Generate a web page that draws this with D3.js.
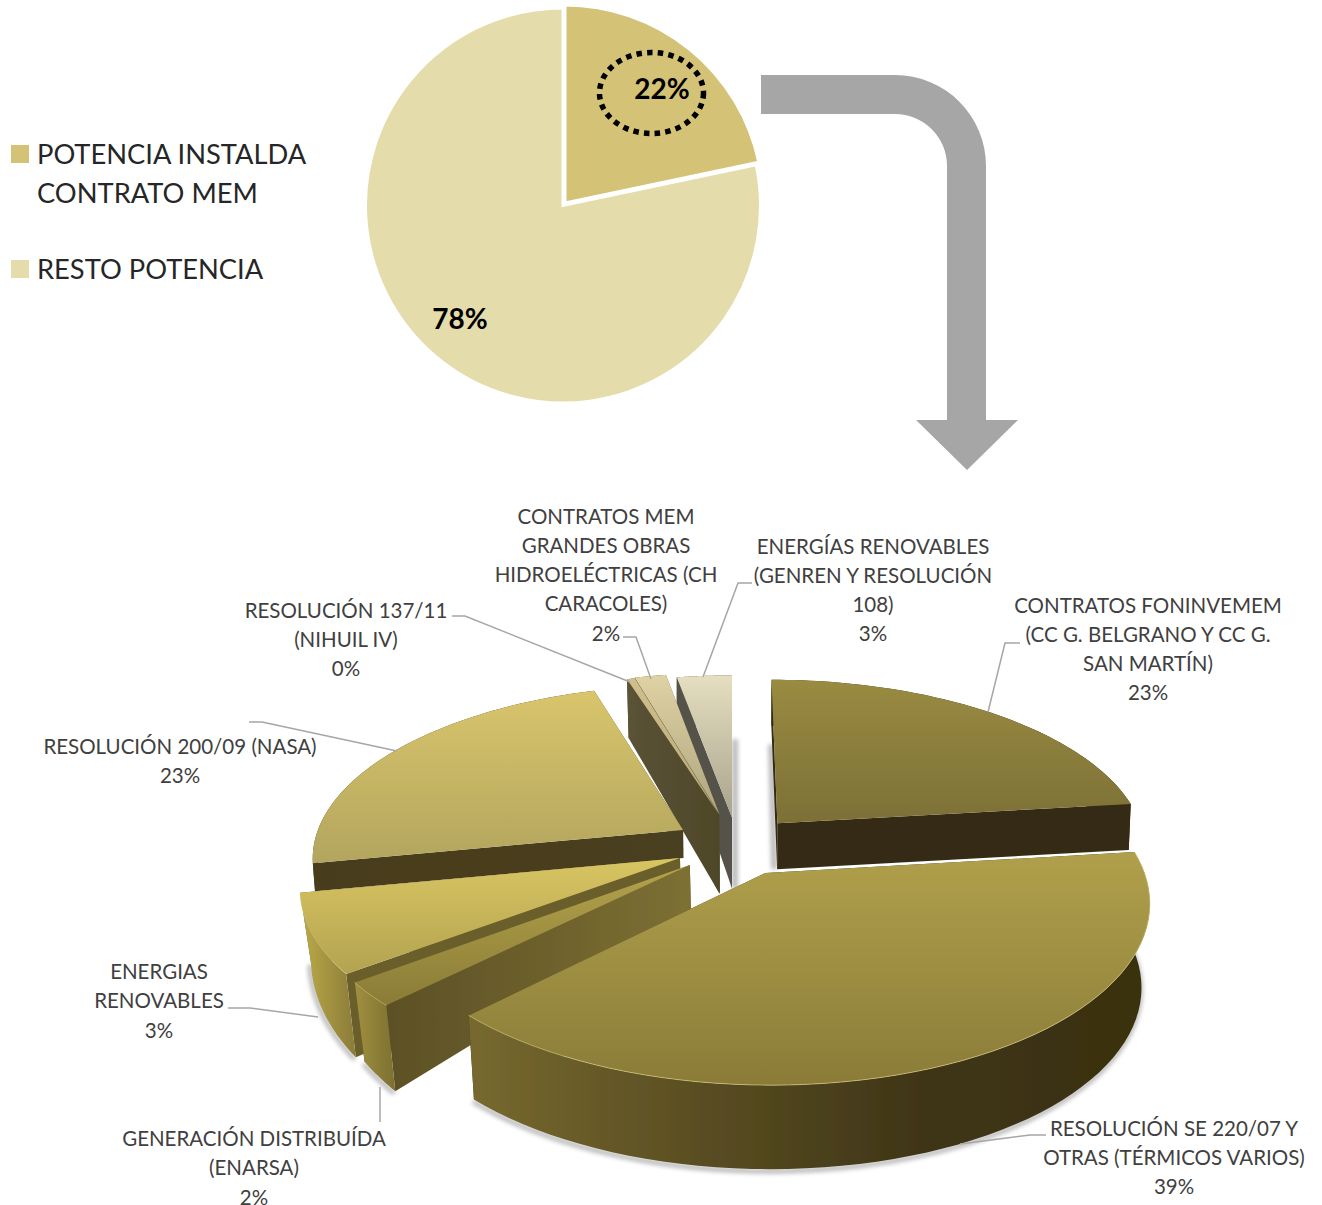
<!DOCTYPE html>
<html><head><meta charset="utf-8">
<script src="https://cdn.jsdelivr.net/npm/d3@7"></script>
<style>html,body{margin:0;padding:0;background:#fff}svg{display:block}text{font-family:Lato,"Open Sans",sans-serif}</style>
</head><body><div id="c"></div>
<script>
// ---- top pie data
const topNames = ["POTENCIA INSTALDA|CONTRATO MEM", "RESTO POTENCIA"];
const topPercentLabels = [22, 78];
const topShares = [21.7, 78.3];
const topColors = ["#d4c276", "#e5dcab"];
// ---- 3D pie data (clockwise from 12 o'clock)
const sliceLabels = [
  ["CONTRATOS FONINVEMEM","(CC G. BELGRANO Y CC G.","SAN MARTÍN)"],
  ["RESOLUCIÓN SE 220/07 Y","OTRAS (TÉRMICOS VARIOS)"],
  ["GENERACIÓN DISTRIBUÍDA","(ENARSA)"],
  ["ENERGIAS","RENOVABLES"],
  ["RESOLUCIÓN 200/09 (NASA)"],
  ["RESOLUCIÓN 137/11","(NIHUIL IV)"],
  ["CONTRATOS MEM","GRANDES OBRAS","HIDROELÉCTRICAS (CH","CARACOLES)"],
  ["ENERGÍAS RENOVABLES","(GENREN Y RESOLUCIÓN","108)"]
];
const slicePercentLabels = [23, 39, 2, 3, 23, 0, 2, 3];
// drawn share of each wedge
const sliceShares = [23.1, 39.4, 2.2, 7.2, 23.3, 0.4, 1.6, 2.8];
// ---- exploded offset of each wedge on the pie plane (in radii)
const explodeX = [0.125, 0.088, -0.112, -0.139, -0.134, -0.035, -0.035, 0];
const explodeY = [-0.13, 0.16, 0.115, 0.075, -0.089, -0.18, -0.185, -0.165];
// ---- wall height model
const depthBase = [46, 84, 39, 62, 28, 83, 83, 75];
const depthSlope = [0, 0, 50, 28, 0, 25, 25, 25];
const depthTaper = [0.995, 0.98, 0.974, 0.975, 0.995, 0.985, 0.985, 1];
const drawOrder = [7, 6, 5, 0, 4, 3, 2, 1];
const shadowedRims = [1, 2, 3];
const shadowedEdges = [[0, "first", -3], [7, "last", 3]];
// ---- styles
const topStops = [
  ["#9a8b42","#7c7036"],["#b0a04c","#8a7c38"],["#b3a34c","#8a7c36"],["#d8c562","#b3a350"],
  ["#d9c56c","#b2a55e"],["#d0c08c","#b5a878"],["#dfd2a4","#aea57e"],["#e5dec0","#a8a38c"]
];
const wallStops = [
  ["#352c13","#352c13"],["#3e3517","#3e3517"],["#5c5026","#7d7032"],["#6b5f2a","#6b5f2a"],
  ["#473d1e","#4a3f20"],["#5a5236","#4e4729"],["#6a6040","#6a6040"],["#55534a","#55534a"]
];
const rimStops = [
  ["#352c13","#352c13"],["#77692f","#5a4e22","#3e3517","#39310f"],["#a08f40","#8e8038","#7c7032"],
  ["#bcab4a","#a39340","#8a7b38"],["#473d1e","#473d1e"],["#5a5236","#5a5236"],
  ["#6a6040","#6a6040"],["#55534a","#55534a"]
];
// ---- label layout (centre x, first-line centre y, elbow path)
const labelX = [1148, 1174, 254, 159, 180, 346, 606, 873];
const labelY = [604.5, 1127.5, 1138, 971, 745.5, 609.5, 515.5, 545.5];
const lineStep = 29.3;
const leaders = [
  [[1020,643],[1005,643],[988,712]],
  [[1046,1135],[1030,1135],[960,1144]],
  [[380,1122],[380,1087]],
  [[228,1008],[250,1008],[318,1017]],
  [[249,722],[262,722],[397,751]],
  [[452,616],[465,616],[630,682]],
  [[623,637],[636,637],[651,679]],
  [[752,583],[738,583],[703,677]]
];

const W = 1322, H = 1205;
const svg = d3.select("#c").append("svg").attr("width", W).attr("height", H);
const defs = svg.append("defs");
svg.append("rect").attr("width", W).attr("height", H).attr("fill", "#fff");

function grad(id, stops, vertical) {
  const g = defs.append("linearGradient").attr("id", id)
    .attr("x1", 0).attr("y1", 0).attr("x2", vertical ? 0 : 1).attr("y2", vertical ? 1 : 0);
  stops.forEach((c, i) => g.append("stop").attr("offset", i / (stops.length - 1)).attr("stop-color", c));
  return `url(#${id})`;
}
defs.append("filter").attr("id", "soft").attr("x", "-10%").attr("y", "-10%").attr("width", "120%").attr("height", "120%")
  .append("feGaussianBlur").attr("stdDeviation", 0.45);
defs.append("filter").attr("id", "shade").attr("filterUnits", "userSpaceOnUse")
  .attr("x", 0).attr("y", 0).attr("width", W).attr("height", H)
  .append("feGaussianBlur").attr("stdDeviation", 2.2);

// ---- top pie (the small wedge is pulled out slightly)
const topPie = d3.pie().sort(null)(topShares);
const topCentres = [[565, 203], [563, 205.5]];
const topRadii = [198, 197.5];
svg.append("g").selectAll("path").data(topPie).join("path")
  .attr("transform", (d, i) => `translate(${topCentres[i][0]},${topCentres[i][1]})`)
  .attr("d", (d, i) => d3.arc().innerRadius(0).outerRadius(topRadii[i])(d))
  .attr("fill", (d, i) => topColors[i])
  .attr("stroke", "#fff").attr("stroke-width", 3).attr("stroke-linejoin", "miter");
const topLabelPos = [[662, 88], [460, 318]];
svg.selectAll("text.tp").data(topPercentLabels).join("text").attr("class", "tp")
  .attr("x", (d, i) => topLabelPos[i][0]).attr("y", (d, i) => topLabelPos[i][1])
  .attr("text-anchor", "middle").attr("dominant-baseline", "central")
  .attr("font-size", 28).attr("font-weight", 700).attr("fill", "#000").text(d => d + "%");
svg.append("ellipse").attr("cx", 651.5).attr("cy", 93).attr("rx", 52).attr("ry", 40.5)
  .attr("fill", "none").attr("stroke", "#000").attr("stroke-width", 5.5).attr("stroke-dasharray", "5.5 5.2");

// ---- legend
const legendY = [153.5, 268.5];
topNames.forEach((n, i) => {
  svg.append("rect").attr("x", 11).attr("y", Math.round(legendY[i]) - 9).attr("width", 18).attr("height", 18).attr("fill", topColors[i]);
  n.split("|").forEach((t, j) => svg.append("text").attr("x", 37).attr("y", legendY[i] + j * 39)
    .attr("dominant-baseline", "central").attr("font-size", 27.3).attr("fill", "#262626").text(t));
});

// ---- arrow
const arrowW = d3.path();
arrowW.moveTo(761, 75); arrowW.lineTo(895, 75); arrowW.arcTo(986, 75, 986, 166, 91); arrowW.lineTo(986, 420);
arrowW.lineTo(1018, 420); arrowW.lineTo(967, 470); arrowW.lineTo(916, 420); arrowW.lineTo(947, 420);
arrowW.lineTo(947, 166); arrowW.arcTo(947, 114, 895, 114, 52); arrowW.lineTo(761, 114); arrowW.closePath();
svg.append("path").attr("d", arrowW.toString()).attr("fill", "#a6a6a6");

// ---- perspective projection of the pie plane
const cam = { cx: 732, cy: 845, R: 370, V: 171, p: 0.15 };
function project(X, Y) {
  const s = 1 / (1 - cam.p * Y);
  return { x: cam.cx + cam.R * X * s, y: cam.cy + cam.V * Y * s, u: Y * s };
}
const pie3 = d3.pie().sort(null)(sliceShares);
const line = d3.line().x(d => d[0]).y(d => d[1]);

function top3(i, a) {
  const X = explodeX[i] + (a === null ? 0 : Math.sin(a));
  const Y = explodeY[i] - (a === null ? 0 : Math.cos(a));
  return project(X, Y);
}
function under(i, q) {
  return [cam.cx + (q.x - cam.cx) * depthTaper[i], q.y + depthBase[i] + depthSlope[i] * q.u];
}
function rimOf(i) {
  const d = pie3[i];
  return d3.range(0, 61).map(k => top3(i, d.startAngle + (d.endAngle - d.startAngle) * k / 60));
}

const g3 = svg.append("g");
const gShadow = g3.append("g").attr("filter", "url(#shade)").attr("opacity", 0.5);
const gBody = g3.append("g").attr("filter", "url(#soft)");

// soft grey shadows behind the solid
shadowedRims.forEach(i => {
  const pts = rimOf(i).map(q => under(i, q)).map(p => [p[0] - 1, p[1] + 2]);
  gShadow.append("path").attr("d", line(pts)).attr("fill", "none").attr("stroke", "#777").attr("stroke-width", 5);
});
shadowedEdges.forEach(([i, which, dx]) => {
  const rim = rimOf(i), q = which === "first" ? rim[0] : rim[rim.length - 1], apex = top3(i, null);
  const start = [d3.interpolateNumber(q.x, apex.x)(0.45) + dx, d3.interpolateNumber(q.y, apex.y)(0.45)];
  const end = under(i, apex);
  gShadow.append("path").attr("d", line([start, [end[0] + dx, end[1]]]))
    .attr("fill", "none").attr("stroke", "#777").attr("stroke-width", 6);
});

drawOrder.forEach(i => {
  const rimTop = rimOf(i);
  const apex = top3(i, null);
  const first = rimTop[0], last = rimTop[rimTop.length - 1];
  const wallFill = grad("w" + i, wallStops[i], false);
  const rimFill = grad("r" + i, rimStops[i], false);
  const topFill = grad("t" + i, topStops[i], true);

  const wall = (q, fill) => gBody.append("path")
    .attr("d", line([[apex.x, apex.y], [q.x, q.y], under(i, q), under(i, apex)]) + "Z").attr("fill", fill);
  wall(last, wallFill);
  wall(first, wallFill);
  const rimPts = rimTop.map(q => [q.x, q.y]).concat(rimTop.slice().reverse().map(q => under(i, q)));
  gBody.append("path").attr("d", line(rimPts) + "Z").attr("fill", rimFill);

  const topPts = [[apex.x, apex.y]].concat(rimTop.map(q => [q.x, q.y]));
  gBody.append("path").attr("d", line(topPts) + "Z").attr("fill", topFill);
  if (i >= 1 && i <= 3) {
    gBody.append("path").attr("d", line(rimTop.map(q => [q.x, q.y]))).attr("fill", "none")
      .attr("stroke", "#d4c67e").attr("stroke-width", 1).attr("opacity", 0.7);
  }
});

// ---- leaders and labels
svg.append("g").selectAll("path").data(leaders).join("path")
  .attr("d", d => line(d)).attr("fill", "none").attr("stroke", "#a6a6a6").attr("stroke-width", 1.5);
sliceLabels.forEach((lines, i) => {
  lines.concat([slicePercentLabels[i] + "%"]).forEach((t, j) => {
    svg.append("text").attr("x", labelX[i]).attr("y", labelY[i] + j * lineStep)
      .attr("text-anchor", "middle").attr("dominant-baseline", "central")
      .attr("font-size", 20.5).attr("fill", "#404040").text(t);
  });
});
</script></body></html>
